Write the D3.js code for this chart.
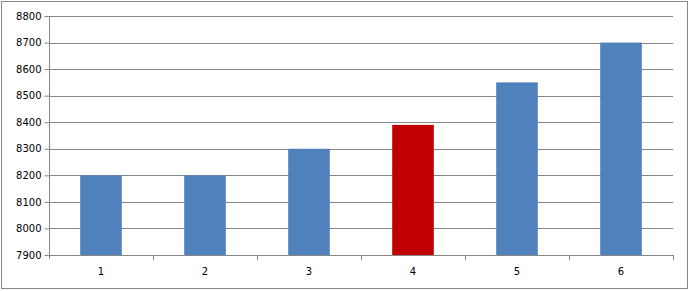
<!DOCTYPE html>
<html><head><meta charset="utf-8">
<script src="https://cdn.jsdelivr.net/npm/d3@7"></script>
<style>body{margin:0;background:#fff}svg{display:block}</style>
</head><body>
<script>
const categories = ["1","2","3","4","5","6"];
const values = [8200, 8200, 8300, 8390, 8550, 8700];
const colors = ["#4F81BD","#4F81BD","#4F81BD","#C00000","#4F81BD","#4F81BD"];
const yTicks = [7900,8000,8100,8200,8300,8400,8500,8600,8700,8800];

const W = 690, H = 291;
const m = {left:49, right:17, top:16, bottom:36};
const svg = d3.select("body").append("svg").attr("width",W).attr("height",H);
svg.append("rect").attr("x",1.5).attr("y",1.5).attr("width",686).attr("height",287)
  .attr("fill","#fff").attr("stroke","#868686");

const xb = d3.scaleBand().domain(categories).range([m.left, W-m.right]);
const y = d3.scaleLinear().domain([7900,8800]).range([H-m.bottom, m.top]);

const g = svg.append("g");
g.selectAll(".grid").data(yTicks).enter().append("line")
  .attr("x1",m.left).attr("x2",W-m.right)
  .attr("y1",d=>Math.round(y(d))+0.5).attr("y2",d=>Math.round(y(d))+0.5)
  .attr("stroke","#868686");

g.selectAll(".bar").data(values).enter().append("rect")
  .attr("x",(d,i)=>xb(categories[i]) + xb.bandwidth()*0.3)
  .attr("width",xb.bandwidth()*0.4)
  .attr("y",d=>y(d)).attr("height",d=>y(7900)-y(d))
  .attr("fill",(d,i)=>colors[i]);

const ya = svg.append("g").attr("transform",`translate(${m.left+0.5},0)`)
  .call(d3.axisLeft(y).tickValues(yTicks).tickSize(5).tickPadding(3).tickFormat(d3.format("d")));
ya.select(".domain").attr("stroke","#868686").attr("d",`M0,${m.top}V${H-m.bottom+4}`);
ya.selectAll(".tick line").attr("stroke","#868686");
ya.selectAll(".tick text").attr("font-family","DejaVu Sans").attr("font-size","10px").attr("fill","#000");

const xa = svg.append("g").attr("transform",`translate(0,${Math.round(y(7900))+0.5})`)
  .call(d3.axisBottom(xb).tickSize(0).tickPadding(12));
xa.select(".domain").attr("stroke","#868686").attr("d",`M${m.left},0H${W-m.right}`);
xa.selectAll(".tick text").attr("font-family","DejaVu Sans").attr("font-size","10px").attr("fill","#000");
svg.append("g").selectAll("line").data(categories).enter().append("line")
  .attr("x1",d=>Math.round(xb(d) + xb.bandwidth())+0.5)
  .attr("x2",d=>Math.round(xb(d) + xb.bandwidth())+0.5)
  .attr("y1",Math.round(y(7900))).attr("y2",Math.round(y(7900))+5)
  .attr("stroke","#868686");
</script>
</body></html>
